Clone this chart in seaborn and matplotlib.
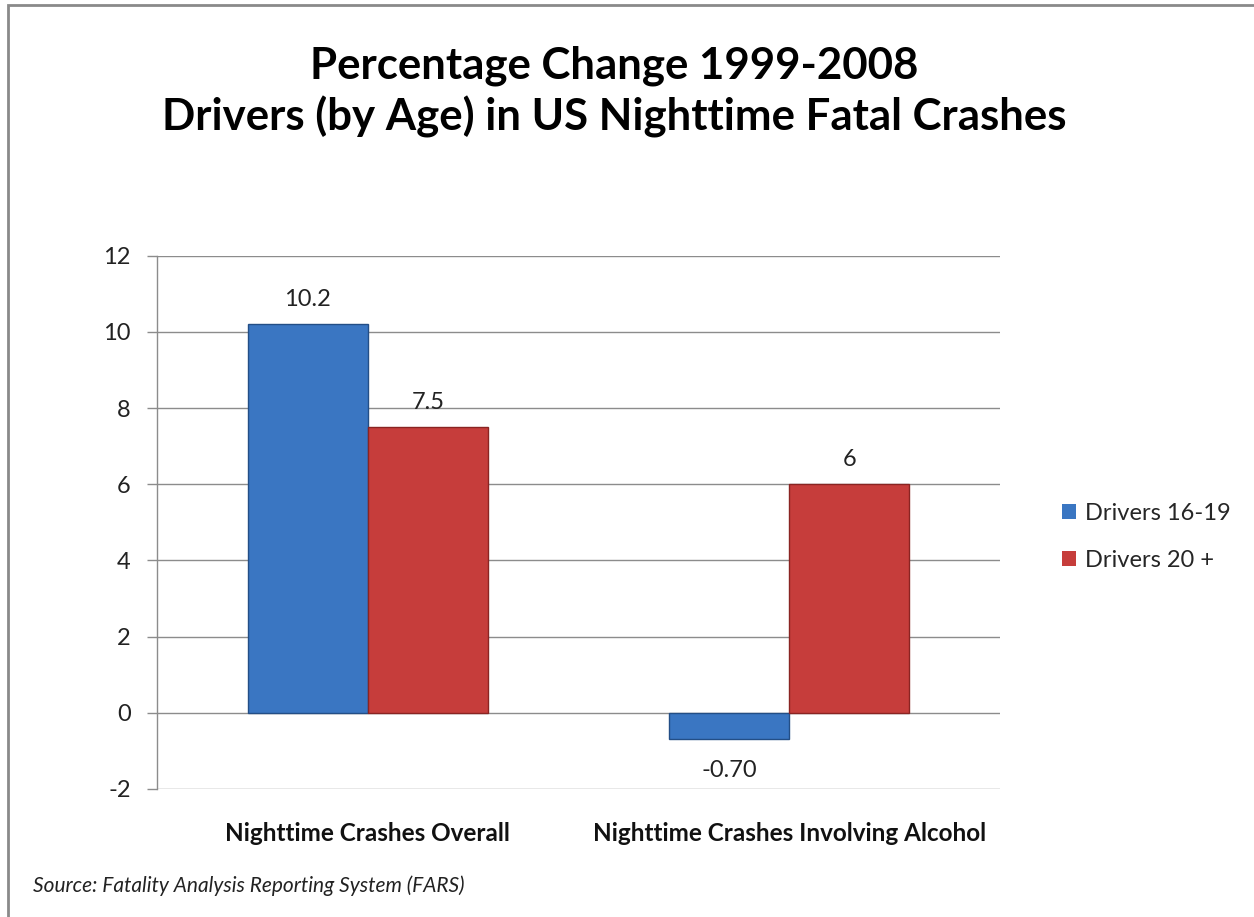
import matplotlib
matplotlib.use("Agg")
import matplotlib.pyplot as plt
import seaborn as sns
import pandas as pd
from matplotlib.patches import Rectangle

categories = ["Nighttime Crashes Overall", "Nighttime Crashes Involving Alcohol"]
series_names = ["Drivers 16-19", "Drivers 20 +"]
drivers_16_19 = [10.2, -0.70]
drivers_20_plus = [7.5, 6.0]
value_labels_16_19 = ["10.2", "-0.70"]
value_labels_20_plus = ["7.5", "6"]
yticks = [-2, 0, 2, 4, 6, 8, 10, 12]

title = "Percentage Change 1999-2008\nDrivers (by Age) in US Nighttime Fatal Crashes"
source = "Source: Fatality Analysis Reporting System (FARS)"

sns.set_theme(style="white")
plt.rcParams["font.family"] = ["Lato", "DejaVu Sans"]

df = pd.DataFrame({
    "category": categories * 2,
    "series": [series_names[0]] * 2 + [series_names[1]] * 2,
    "value": drivers_16_19 + drivers_20_plus,
})

fig = plt.figure(figsize=(12.54, 9.17), dpi=100)
ax = fig.add_axes([0.1252, 0.1396, 0.6722, 0.5816])

palette = {series_names[0]: "#3A76C2", series_names[1]: "#C63D3B"}
sns.barplot(data=df, x="category", y="value", hue="series", palette=palette,
            width=0.57, ax=ax, saturation=1, zorder=3)

edge = {series_names[0]: "#234E86", series_names[1]: "#8A2422"}
for cont, name in zip(ax.containers, series_names):
    for p in cont:
        p.set_edgecolor(edge[name])
        p.set_linewidth(1.0)

for cont, labels in zip(ax.containers, [value_labels_16_19, value_labels_20_plus]):
    for p, lab in zip(cont, labels):
        h = p.get_height()
        x = p.get_x() + p.get_width() / 2
        if h >= 0:
            ax.annotate(lab, (x, h), xytext=(0, 10), textcoords="offset points",
                        ha="center", va="bottom", fontsize=17, color="#222222")
        else:
            ax.annotate(lab, (x, h), xytext=(0, -15), textcoords="offset points",
                        ha="center", va="top", fontsize=17, color="#222222")

ax.set_ylim(-2, 12)
ax.set_yticks(yticks)
ax.set_yticklabels([str(t) for t in yticks], fontsize=17, color="#222222")
ax.yaxis.grid(True, color="#8c8c8c", linewidth=1.0, zorder=0)
ax.set_axisbelow(True)
for s in ["top", "right", "bottom"]:
    ax.spines[s].set_visible(False)
ax.spines["left"].set_color("#8c8c8c")
ax.spines["left"].set_linewidth(1.0)
ax.tick_params(axis="y", which="major", left=True, length=7, width=1.0,
               color="#8c8c8c", pad=12)
ax.tick_params(axis="x", length=0, pad=24)
ax.set_xlabel("")
ax.set_ylabel("")
for lab in ax.get_xticklabels():
    lab.set_fontweight("bold")
    lab.set_fontsize(17.5)
    lab.set_color("#111111")

leg = ax.legend(loc="center left", bbox_to_anchor=(1.048, 0.472), frameon=False,
                fontsize=17, handlelength=0.6, handleheight=0.6,
                handletextpad=0.4, labelspacing=1.1)
for h in leg.legend_handles:
    h.set_edgecolor("none")

fig.text(0.49, 0.9, title, ha="center", va="center", fontsize=31.5,
         fontweight="bold", linespacing=1.3, color="#000000")
fig.text(0.026, 0.034, source, ha="left", va="center", fontsize=15,
         style="italic", color="#222222")

fig.patches.append(Rectangle((8 / 1254, -0.1), 1.2, 1 - 5 / 917 + 0.1,
                             transform=fig.transFigure, fill=False,
                             edgecolor="#8a8a8a", linewidth=2.0))

fig.savefig("out.png", dpi=100, facecolor="white")
